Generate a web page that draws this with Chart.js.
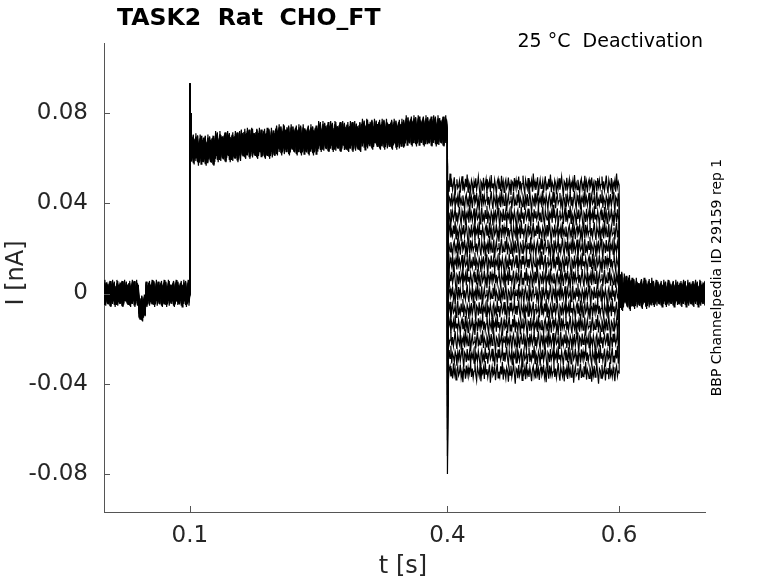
<!DOCTYPE html>
<html><head><meta charset="utf-8">
<script src="https://cdn.jsdelivr.net/npm/chart.js@4.4.1/dist/chart.umd.min.js"></script>
<style>html,body{margin:0;padding:0;background:#fff;}#wrap{width:778px;height:583px;}</style>
</head><body><div id="wrap"><canvas id="c" width="778" height="583"></canvas></div>
<script>
const titleText = 'TASK2  Rat  CHO_FT';
const conditionText = '25 °C  Deactivation';
const sideText = 'BBP Channelpedia ID 29159 rep 1';
const xTitle = 't [s]';
const yTitle = 'I [nA]';
const xTickValues = [0.1, 0.4, 0.6];
const xTickLabels = ['0.1', '0.4', '0.6'];
const yTickValues = [0.08, 0.04, 0, -0.04, -0.08];
const yTickLabels = ['0.08', '0.04', '0', '-0.04', '-0.08'];

// holding period (segment start times [s], mean current [nA])
const baselineStarts = [0, 0.041, 0.049];
const baselineMeans  = [0.0, -0.0065, 0.0];
// activation step onset transient
const onsetTimes  = [0.1, 0.1, 0.1006, 0.1012, 0.1018];
const onsetValues = [0.0, 0.093, 0.080, 0.070, 0.066];
// activation step, segment means
const activationStarts = [0.102, 0.11, 0.13, 0.16, 0.2, 0.25, 0.3, 0.35];
const activationMeans  = [0.064, 0.0635, 0.065, 0.0665, 0.068, 0.0695, 0.0705, 0.072];
// deactivation (tail) level of each sweep and its capacitive spike
const tailLevels = [0.048, 0.0411, 0.0342, 0.0273, 0.0204, 0.0135, 0.0066, -0.0003, -0.0072, -0.0141, -0.021, -0.0279, -0.035];
const tailSpikes = [-0.015, -0.02, -0.025, -0.03, -0.035, -0.04, -0.045, -0.05, -0.055, -0.06, -0.065, -0.072, -0.080];
// return to holding, segment means and noise size
const returnStarts = [0.6, 0.604, 0.615, 0.64];
const returnMeans  = [0.001, 0.0005, 0.0, 0.0];
const returnNoise  = [0.010, 0.009, 0.0075, 0.0065];
// recorded noise size per phase [nA]
const baselineNoise = 0.0065;
const activationNoise = 0.0075;
const tailNoise = 0.0055;
// noise trace shape read from the recording (relative units)
const noisePattern = [
 0.31,-0.42,0.12,0.77,-0.18,-0.65,0.44,0.05,-0.29,0.58,
 -0.71,0.22,-0.06,0.39,-0.52,0.93,-0.14,0.27,-0.38,0.11,
 0.64,-0.83,0.02,0.47,-0.25,-0.09,0.35,-0.61,0.18,0.72,
 -0.44,0.07,-0.33,0.51,-0.16,0.86,-0.57,0.24,-0.02,-0.48,
 0.41,0.13,-0.74,0.29,-0.21,0.55,-0.37,0.08,0.68,-0.12,
 -0.91,0.33,0.16,-0.45,0.60,-0.28,0.04,0.49,-0.63,0.21,
 -0.10,0.37,-0.54,0.82,-0.20,0.14,-0.35,0.43,-0.07,-0.69,
 0.26,0.53,-0.31,0.09,-0.47,0.75,-0.15,0.30,-0.59,0.19,
 0.46,-0.24,-0.01,0.62,-0.40,0.10,-0.78,0.34,0.23,-0.50,
 0.57,-0.13,0.40,-0.27,0.06,0.70,-0.36
];

function segValue(starts, vals, t) {
  let v = vals[0];
  for (let j = 0; j < starts.length; j++) if (t >= starts[j] - 1e-9) v = vals[j];
  return v;
}

const N = noisePattern.length;
function buildSweep(i) {
  const pts = [];
  const nz = k => noisePattern[(k + i * 37) % N];
  for (let k = 0; k < 100; k++) {
    const t = k / 1000;
    pts.push({x: t, y: segValue(baselineStarts, baselineMeans, t) + baselineNoise * nz(k)});
  }
  for (let j = 0; j < onsetTimes.length; j++) pts.push({x: onsetTimes[j], y: onsetValues[j]});
  for (let k = 102; k < 400; k++) {
    const t = k / 1000;
    pts.push({x: t, y: segValue(activationStarts, activationMeans, t) + activationNoise * nz(k)});
  }
  pts.push({x: 0.4, y: activationMeans[activationMeans.length - 1]});
  pts.push({x: 0.4, y: tailSpikes[i]});
  pts.push({x: 0.4008, y: (tailSpikes[i] + tailLevels[i] * 2) / 3});
  for (let k = 401; k < 600; k++) {
    pts.push({x: k / 1000, y: tailLevels[i] + tailNoise * nz(k)});
  }
  pts.push({x: 0.6, y: tailLevels[i]});
  for (let k = 600; k <= 700; k++) {
    const t = k / 1000;
    pts.push({x: t, y: segValue(returnStarts, returnMeans, t) + segValue(returnStarts, returnNoise, t) * nz(k)});
  }
  return pts;
}

const datasets = tailLevels.map((_, i) => ({
  data: buildSweep(i), borderColor: '#000', borderWidth: 1.2, pointRadius: 0, tension: 0, fill: false
}));

const FONT = "'DejaVu Sans', sans-serif";
const decor = {
  id: 'decor',
  afterDraw(chart) {
    const {ctx, chartArea: a, scales: {x, y}} = chart;
    ctx.save();
    ctx.strokeStyle = '#555'; ctx.lineWidth = 1;
    ctx.beginPath();
    xTickValues.forEach(v => { const px = Math.round(x.getPixelForValue(v)) + 0.5; ctx.moveTo(px, a.bottom); ctx.lineTo(px, a.bottom - 6); });
    yTickValues.forEach(v => { const py = Math.round(y.getPixelForValue(v)) + 0.5; ctx.moveTo(a.left, py); ctx.lineTo(a.left + 6, py); });
    ctx.stroke();
    ctx.fillStyle = '#000';
    ctx.font = 'bold 23.6px ' + FONT; ctx.textAlign = 'left'; ctx.textBaseline = 'alphabetic';
    ctx.fillText(titleText, 117, 25);
    ctx.font = '19px ' + FONT; ctx.textAlign = 'right';
    ctx.fillText(conditionText, 703, 47);
    ctx.fillStyle = '#262626';
    ctx.font = '24px ' + FONT; ctx.textAlign = 'center'; ctx.textBaseline = 'middle';
    ctx.fillText(xTitle, 403, 567);
    ctx.save(); ctx.translate(17, 273); ctx.rotate(-Math.PI / 2); ctx.fillText(yTitle, 0, 0); ctx.restore();
    ctx.fillStyle = '#000';
    ctx.font = '14px ' + FONT;
    ctx.save(); ctx.translate(717, 277.5); ctx.rotate(-Math.PI / 2); ctx.fillText(sideText, 0, 0); ctx.restore();
    ctx.restore();
  }
};

new Chart(document.getElementById('c'), {
  type: 'line',
  data: {datasets},
  plugins: [decor],
  options: {
    responsive: false, animation: false, parsing: false, normalized: true,
    layout: {padding: {top: 43, right: 73, left: 0, bottom: 0}},
    plugins: {legend: {display: false}, tooltip: {enabled: false}, title: {display: false}},
    scales: {
      x: {
        type: 'linear', min: 0, max: 0.7,
        afterBuildTicks: s => { s.ticks = xTickValues.map(v => ({value: v})); },
        afterFit: s => { s.height = 71; },
        grid: {display: false, drawTicks: false},
        border: {display: true, color: '#555', width: 1},
        ticks: {autoSkip: false, maxRotation: 0, padding: 10, color: '#262626', font: {family: FONT, size: 23},
                callback: (v, idx) => xTickLabels[idx]}
      },
      y: {
        type: 'linear', min: -0.0968, max: 0.111,
        afterBuildTicks: s => { s.ticks = yTickValues.map(v => ({value: v})); },
        afterFit: s => { s.width = 104; },
        grid: {display: false, drawTicks: false},
        border: {display: true, color: '#555', width: 1},
        ticks: {autoSkip: false, padding: 16, color: '#262626', font: {family: FONT, size: 23},
                callback: (v, idx) => yTickLabels[idx]}
      }
    }
  }
});
</script></body></html>
